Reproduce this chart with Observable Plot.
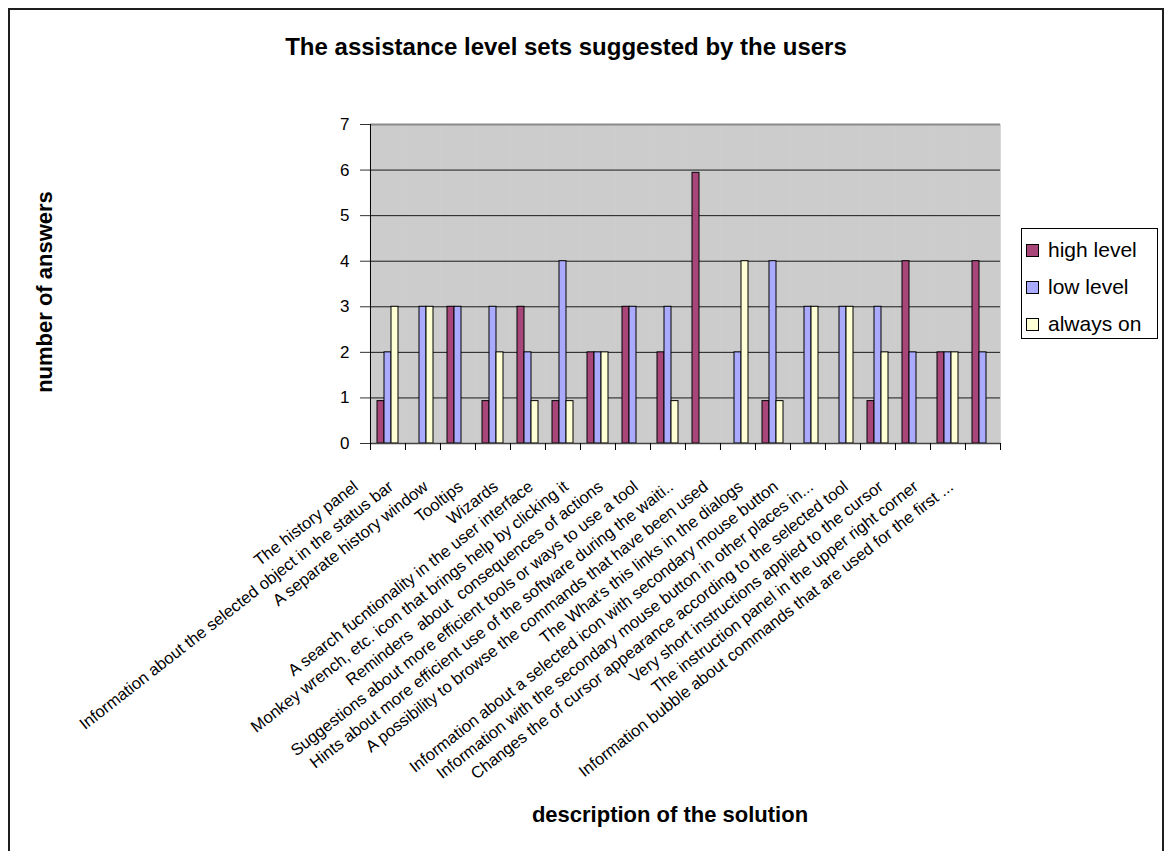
<!DOCTYPE html>
<html><head><meta charset="utf-8">
<script src="https://cdn.jsdelivr.net/npm/d3@7"></script>
<script src="https://cdn.jsdelivr.net/npm/@observablehq/plot@0.6"></script>
<style>
html,body{margin:0;padding:0;background:#fff;overflow:hidden}
#chart{position:relative;width:1168px;height:851px;font-family:"Liberation Sans",Arial,sans-serif;color:#000;overflow:hidden}
#frame{position:absolute;left:8px;top:8px;width:1156px;height:900px;border:2px solid #1e1e1e;box-sizing:border-box}
#title{position:absolute;left:0;width:1132px;top:33px;text-align:center;font-weight:bold;font-size:24px;line-height:28px;white-space:nowrap}
#ylabel{position:absolute;left:45px;top:292px;transform:translate(-50%,-50%) rotate(-90deg);font-weight:bold;font-size:22px;white-space:nowrap}
#xlabel{position:absolute;left:670px;top:815px;transform:translate(-50%,-50%);font-weight:bold;font-size:22px;white-space:nowrap}
#legend{position:absolute;left:1021px;top:228px;width:137px;height:111px;border:1px solid #000;box-sizing:border-box;background:#fff}
.item{position:absolute;left:4px;height:24px;display:flex;align-items:center;font-size:21px;white-space:nowrap}
.sw{width:13px;height:13px;border:1px solid #000;margin-right:9px;box-sizing:border-box}
#plot{position:absolute;left:0;top:0}
</style></head><body>
<div id="chart">
  <div id="frame"></div>
  <div id="plot"></div>
  <div id="title">The assistance level sets suggested by the users</div>
  <div id="ylabel">number of answers</div>
  <div id="xlabel">description of the solution</div>
  <div id="legend"></div>
</div>
<script>
const categories = [
  "The history panel",
  "Information about the selected object in the status bar",
  "A separate history window",
  "Tooltips",
  "Wizards",
  "A search fucntionality in the user interface",
  "Monkey wrench, etc. icon that brings help by clicking it",
  "Reminders  about  consequences of actions",
  "Suggestions about more efficient tools or ways to use a tool",
  "Hints about more efficient use of the software during the waiti..",
  "A possibility to browse the commands that have been used",
  "The What's this links in the dialogs",
  "Information about a selected icon with secondary mouse button",
  "Information with the secondary mouse button in other places in...",
  "Changes the of cursor appearance according to the selected tool",
  "Very short instructions applied to the cursor",
  "The instruction panel in the upper right corner",
  "Information bubble about commands that are used for the first ..."
];
const seriesNames = ["high level", "low level", "always on"];
const highLevel = [0.93, 0, 3, 0.93, 3, 0.93, 2, 3, 2, 5.94, 0, 0.93, 0, 0, 0.93, 4, 2, 4];
const lowLevel  = [2, 3, 3, 3, 2, 4, 2, 3, 3, 0, 2, 4, 3, 3, 3, 2, 2, 2];
const alwaysOn  = [3, 3, 0, 2, 0.93, 0.93, 2, 0, 0.93, 0, 4, 0.93, 3, 3, 2, 0, 2, 0];
const seriesColors = ["#a8467a", "#aaaaff", "#ffffd5"];
const yTicks = [0, 1, 2, 3, 4, 5, 6, 7];
const gridTicks = [1, 2, 3, 4, 5, 6];

const seriesValues = [highLevel, lowLevel, alwaysOn];
const rows = categories.flatMap((c, i) =>
  seriesNames.map((s, j) => ({category: c, series: s, value: seriesValues[j][i]})));

const W = 1168, H = 851, mL = 369, mR = 168, mT = 124, mB = 408;
const band = (W - mL - mR) / categories.length;
const font = '"Liberation Sans", Arial, sans-serif';

const chart = Plot.plot({
  width: W, height: H,
  marginLeft: mL, marginRight: mR, marginTop: mT, marginBottom: mB,
  style: {fontFamily: font, background: "transparent", overflow: "visible", color: "#000"},
  fx: {domain: categories, padding: 0, label: null},
  x: {domain: seriesNames, paddingInner: 0, paddingOuter: 0.75, axis: null},
  y: {domain: [0, 7], label: null},
  color: {domain: seriesNames, range: seriesColors},
  marks: [
    Plot.frame({fill: "#cccccc", stroke: "#cccccc", strokeWidth: 0.6}),
    Plot.gridY(gridTicks, {stroke: "#1a1a1a", strokeOpacity: 1, strokeWidth: 1}),
    Plot.ruleY([7], {stroke: "#8a8a8a", strokeWidth: 2}),
    Plot.barY(rows.filter(d => d.value > 0), {
      fx: "category", x: "series", y: "value", fill: "series",
      stroke: "#000", strokeWidth: 1, insetLeft: 0, insetRight: 0
    }),
    Plot.ruleY([0], {stroke: "#444", strokeWidth: 1.5}),
    Plot.axisY(yTicks, {tickSize: 10, tickPadding: 11, fontSize: 17, stroke: "#333", label: null}),
    Plot.axisFx({anchor: "bottom", tickSize: 0, tickPadding: 0, rotate: -38, textAnchor: "end", lineAnchor: "middle",
      dx: -32, dy: 41, fontSize: 16.5, label: null}),
    Plot.axisFx({anchor: "bottom", tickSize: 7, tickFormat: () => "", dx: -band / 2, stroke: "#000", label: null}),
    Plot.axisFx({anchor: "bottom", ticks: [categories[categories.length - 1]], tickSize: 7, tickFormat: () => "", dx: band / 2, stroke: "#000", label: null}),
    Plot.axisFx({anchor: "bottom", ticks: [categories[0]], tickSize: -(H - mT - mB), tickFormat: () => "", dx: -band / 2, stroke: "#000", label: null})
  ]
});
document.getElementById("plot").appendChild(chart);

const legend = document.getElementById("legend");
seriesNames.forEach((s, i) => {
  const item = document.createElement("div");
  item.className = "item";
  item.style.top = (9 + i * 37) + "px";
  const sw = document.createElement("div");
  sw.className = "sw";
  sw.style.background = seriesColors[i];
  const t = document.createElement("span");
  t.textContent = s;
  item.appendChild(sw);
  item.appendChild(t);
  legend.appendChild(item);
});
</script>
</body></html>
